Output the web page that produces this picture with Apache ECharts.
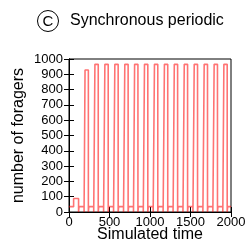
<!DOCTYPE html>
<html>
<head>
<meta charset="utf-8">
<script src="https://cdn.jsdelivr.net/npm/echarts@6/dist/echarts.min.js"></script>
<style>
  html, body { margin: 0; padding: 0; background: #fff; }
  #chart { width: 249px; height: 244px; }
</style>
</head>
<body>
<div id="chart"></div>
<script>
// simulated time at each change of the forager count
var times = [0, 57, 118, 124, 186,
    198, 239, 245, 305,
    320, 361, 367, 427,
    443, 484, 490, 550,
    566, 607, 613, 673,
    689, 730, 736, 796,
    810, 851, 857, 917,
    932, 973, 979, 1039,
    1055, 1096, 1102, 1162,
    1178, 1219, 1225, 1285,
    1300, 1341, 1347, 1407,
    1423, 1464, 1470, 1530,
    1546, 1587, 1593, 1653,
    1669, 1710, 1716, 1776,
    1792, 1833, 1839, 1899,
    1912, 1953, 1959, 2000];
// number of foragers from that time on
var foragers = [35, 88, 0, 35, 0,
    928, 0, 35, 0,
    965, 0, 35, 0,
    965, 0, 35, 0,
    965, 0, 35, 0,
    965, 0, 35, 0,
    965, 0, 35, 0,
    965, 0, 35, 0,
    965, 0, 35, 0,
    965, 0, 35, 0,
    965, 0, 35, 0,
    965, 0, 35, 0,
    965, 0, 35, 0,
    965, 0, 35, 0,
    965, 0, 35, 0,
    965, 0, 35, 35];
var xTicks = [0, 500, 1000, 1500, 2000];
var yTicks = [0, 100, 200, 300, 400, 500, 600, 700, 800, 900, 1000];

var font = '"Liberation Sans", Arial, Helvetica, sans-serif';
var points = [];
for (var i = 0; i < times.length; i++) {
    points.push([times[i], foragers[i]]);
}
function plain(v) { return String(v); }

var myChart = echarts.init(document.getElementById('chart'));
var tickStyle = {inside: true, length: 5, lineStyle: {color: '#000', width: 1}};
var option = {
    animation: false,
    textStyle: {fontFamily: font},
    grid: {left: 69, right: 18, top: 59, bottom: 32, outerBoundsMode: 'none',
        show: true, borderColor: '#000', borderWidth: 1},
    graphic: [
        {type: 'circle', shape: {cx: 48, cy: 21, r: 10.5},
            style: {fill: 'none', stroke: '#000', lineWidth: 1}},
        {type: 'text', style: {text: 'C', x: 48, y: 21.5, align: 'center', verticalAlign: 'middle',
            font: '15px ' + font, fill: '#000'}},
        {type: 'text', style: {text: 'Synchronous periodic', x: 70, y: 21, align: 'left', verticalAlign: 'middle',
            font: '16px ' + font, fill: '#000'}}
    ],
    xAxis: [
        {
            type: 'value', min: xTicks[0], max: xTicks[xTicks.length - 1], interval: 500,
            name: 'Simulated time', nameLocation: 'middle', nameGap: 15, nameMoveOverlap: false,
            nameTextStyle: {fontSize: 16, color: '#000', fontFamily: font},
            axisLine: {onZero: false, lineStyle: {color: '#000'}},
            axisTick: tickStyle,
            axisLabel: {fontSize: 13, color: '#000', margin: 4, fontFamily: font, formatter: plain},
            splitLine: {show: false}
        },
        {
            type: 'value', position: 'top', min: xTicks[0], max: xTicks[xTicks.length - 1], interval: 500,
            axisLine: {lineStyle: {color: '#000'}},
            axisTick: tickStyle,
            axisLabel: {show: false},
            splitLine: {show: false}
        }
    ],
    yAxis: [
        {
            type: 'value', min: yTicks[0], max: yTicks[yTicks.length - 1], interval: 100,
            name: 'number of foragers', nameLocation: 'middle', nameGap: 42, nameMoveOverlap: false,
            nameTextStyle: {fontSize: 16, color: '#000', fontFamily: font},
            axisLine: {onZero: false, lineStyle: {color: '#000'}},
            axisTick: tickStyle,
            axisLabel: {fontSize: 13, color: '#000', margin: 6, fontFamily: font, formatter: plain},
            splitLine: {show: false}
        },
        {
            type: 'value', position: 'right', min: yTicks[0], max: yTicks[yTicks.length - 1], interval: 100,
            axisLine: {lineStyle: {color: '#000'}},
            axisTick: tickStyle,
            axisLabel: {show: false},
            splitLine: {show: false}
        }
    ],
    series: [
        {
            type: 'line',
            step: 'end',
            data: points,
            showSymbol: false,
            lineStyle: {color: 'rgba(255,0,0,0.55)', width: 1.6}
        }
    ]
};
myChart.setOption(option);
window.onresize = myChart.resize;
</script>
</body>
</html>
